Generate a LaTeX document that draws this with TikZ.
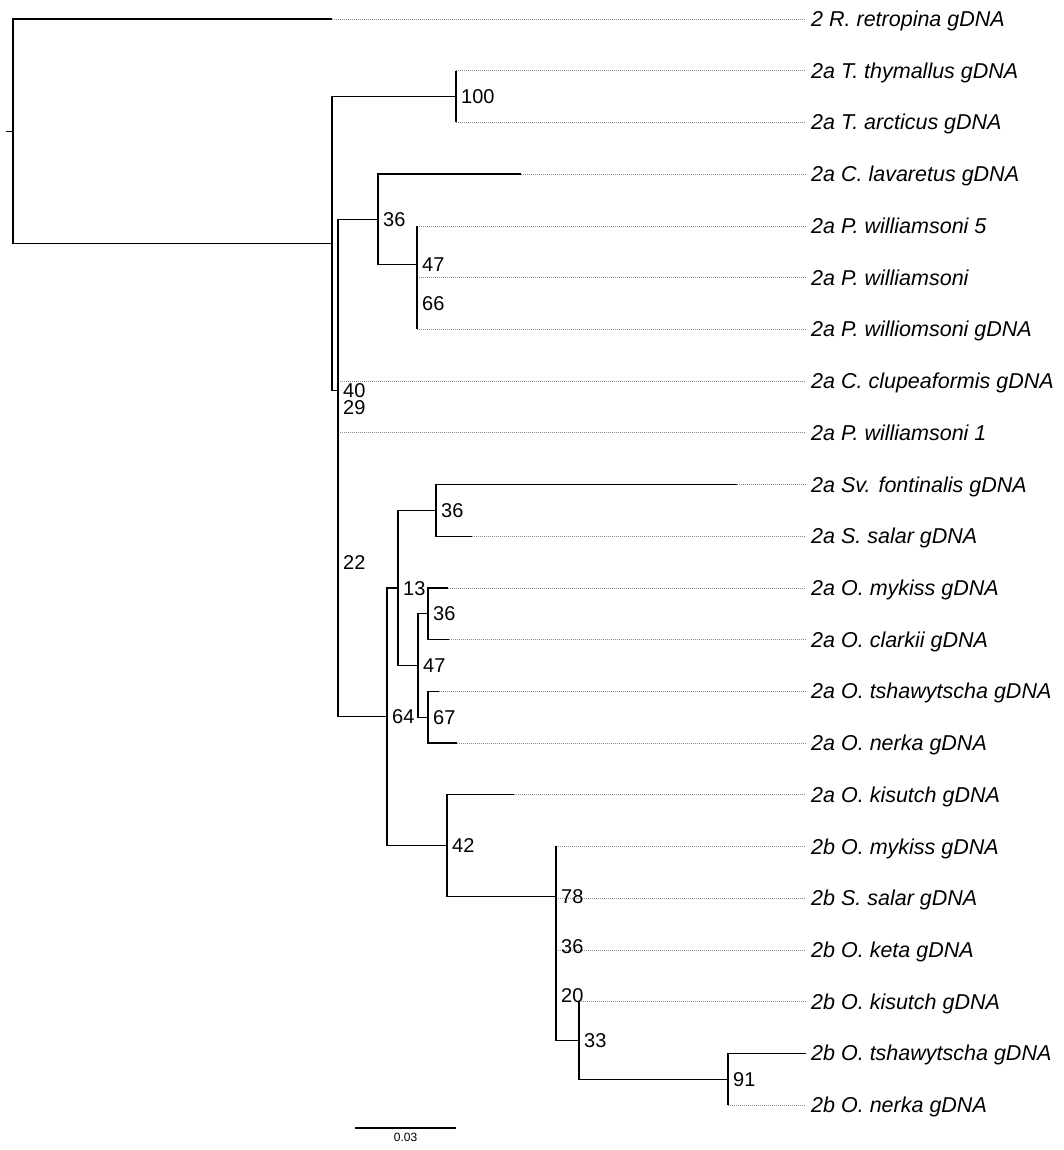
\documentclass[tikz,border=0pt]{standalone}
\usepackage{fontspec}
\setmainfont{Liberation Sans}
\usepackage{tikz}
\usetikzlibrary{
    positioning,
    calc
}
\tikzset{
    branch/.style={
        draw=black,
        line width=1.2pt
    },
    guide/.style={
        draw=black!45,
        line width=0.7pt,
        dash pattern=on 1pt off 1pt,
        shorten >=5pt
    },
    taxon/.style={
        anchor=base west,
        inner sep=0pt,
        yshift=-7.6pt,
        font=\fontsize{21.5}{24}\selectfont\itshape
    },
    boot/.style={
        anchor=base west,
        inner sep=0pt,
        xshift=5pt,
        yshift=-7.2pt,
        font=\fontsize{20}{24}\selectfont
    },
    scalelab/.style={
        inner sep=0pt,
        font=\fontsize{12}{14}\selectfont
    }
}

\begin{document}
\begin{tikzpicture}[x=1pt,y=-1pt]
\useasboundingbox (0,0) rectangle (1063,1150);
% leaf tips
\coordinate (k1) at (332,19);
\coordinate (k2) at (456,70.7);
\coordinate (k3) at (456,122.4);
\coordinate (k4) at (521,174.1);
\coordinate (k5) at (417,225.9);
\coordinate (k6) at (417,277.6);
\coordinate (k7) at (417,329.3);
\coordinate (k8) at (338,381);
\coordinate (k9) at (338,432.7);
\coordinate (k10) at (737,484.4);
\coordinate (k11) at (472,536.1);
\coordinate (k12) at (448,587.9);
\coordinate (k13) at (449,639.6);
\coordinate (k14) at (439,691.3);
\coordinate (k15) at (457,743);
\coordinate (k16) at (514,794.7);
\coordinate (k17) at (556,846.4);
\coordinate (k18) at (556,898.1);
\coordinate (k19) at (556,949.9);
\coordinate (k20) at (579,1001.6);
\coordinate (k21) at (806,1053.3);
\coordinate (k22) at (728,1105);
% inner nodes
\coordinate (stub) at (6,131.3);
\coordinate (nroot) at (13,131.3);
\coordinate (nA) at (332,243.6);
\coordinate (nTh) at (456,96.6);
\coordinate (nB) at (338,390.6);
\coordinate (nC) at (378,219.4);
\coordinate (nD) at (417,264.7);
\coordinate (nD2) at (417,303.4);
\coordinate (nE) at (338,561.8);
\coordinate (nG) at (338,406.9);
\coordinate (nH) at (387,716.7);
\coordinate (nI) at (398,587.9);
\coordinate (nK) at (436,510.3);
\coordinate (nL) at (418,665.4);
\coordinate (nM) at (428,613.7);
\coordinate (nN) at (428,717.2);
\coordinate (nJ) at (447,845.6);
\coordinate (nP) at (556,896.5);
\coordinate (nQ) at (556,946.6);
\coordinate (nR) at (556,995.1);
\coordinate (nS) at (579,1040.4);
\coordinate (nT) at (728,1079.2);
% taxa
\node[taxon] (t1) at (811,19) {2 R. retropina gDNA};
\node[taxon] (t2) at (811,70.7) {2a T. thymallus gDNA};
\node[taxon] (t3) at (811,122.4) {2a T. arcticus gDNA};
\node[taxon] (t4) at (811,174.1) {2a C. lavaretus gDNA};
\node[taxon] (t5) at (811,225.9) {2a P. williamsoni 5};
\node[taxon] (t6) at (811,277.6) {2a P. williamsoni};
\node[taxon] (t7) at (811,329.3) {2a P. williomsoni gDNA};
\node[taxon] (t8) at (811,381) {2a C. clupeaformis gDNA};
\node[taxon] (t9) at (811,432.7) {2a P. williamsoni 1};
\node[taxon] (t10) at (811,484.4) {2a Sv. fontinalis gDNA};
\node[taxon] (t11) at (811,536.1) {2a S. salar gDNA};
\node[taxon] (t12) at (811,587.9) {2a O. mykiss gDNA};
\node[taxon] (t13) at (811,639.6) {2a O. clarkii gDNA};
\node[taxon] (t14) at (811,691.3) {2a O. tshawytscha gDNA};
\node[taxon] (t15) at (811,743) {2a O. nerka gDNA};
\node[taxon] (t16) at (811,794.7) {2a O. kisutch gDNA};
\node[taxon] (t17) at (811,846.4) {2b O. mykiss gDNA};
\node[taxon] (t18) at (811,898.1) {2b S. salar gDNA};
\node[taxon] (t19) at (811,949.9) {2b O. keta gDNA};
\node[taxon] (t20) at (811,1001.6) {2b O. kisutch gDNA};
\node[taxon] (t21) at (811,1053.3) {2b O. tshawytscha gDNA};
\node[taxon] (t22) at (811,1105) {2b O. nerka gDNA};
% dotted guides to the taxa
\draw[guide] (k1) -- (k1 -| t1.west);
\draw[guide] (k2) -- (k2 -| t2.west);
\draw[guide] (k3) -- (k3 -| t3.west);
\draw[guide] (k4) -- (k4 -| t4.west);
\draw[guide] (k5) -- (k5 -| t5.west);
\draw[guide] (k6) -- (k6 -| t6.west);
\draw[guide] (k7) -- (k7 -| t7.west);
\draw[guide] (k8) -- (k8 -| t8.west);
\draw[guide] (k9) -- (k9 -| t9.west);
\draw[guide] (k10) -- (k10 -| t10.west);
\draw[guide] (k11) -- (k11 -| t11.west);
\draw[guide] (k12) -- (k12 -| t12.west);
\draw[guide] (k13) -- (k13 -| t13.west);
\draw[guide] (k14) -- (k14 -| t14.west);
\draw[guide] (k15) -- (k15 -| t15.west);
\draw[guide] (k16) -- (k16 -| t16.west);
\draw[guide] (k17) -- (k17 -| t17.west);
\draw[guide] (k18) -- (k18 -| t18.west);
\draw[guide] (k19) -- (k19 -| t19.west);
\draw[guide] (k20) -- (k20 -| t20.west);
\draw[guide] (k22) -- (k22 -| t22.west);
% branches
\draw[branch] (stub) -- (nroot);
\draw[branch] (nroot) |- (k1);
\draw[branch] (nroot) |- (nA);
\draw[branch] (nA) |- (nTh);
\draw[branch] (nA) |- (nB);
\draw[branch] (nTh) |- (k2);
\draw[branch] (nTh) |- (k3);
\draw[branch] (nB) |- (nC);
\draw[branch] (nB) |- (nE);
\draw[branch] (nC) |- (k4);
\draw[branch] (nC) |- (nD);
\draw[branch] (nD) |- (k5);
\draw[branch] (nD) |- (nD2);
\draw[branch] (nD2) |- (k6);
\draw[branch] (nD2) |- (k7);
\draw[branch] (nE) |- (nG);
\draw[branch] (nE) |- (nH);
\draw[branch] (nG) |- (k8);
\draw[branch] (nG) |- (k9);
\draw[branch] (nH) |- (nI);
\draw[branch] (nH) |- (nJ);
\draw[branch] (nI) |- (nK);
\draw[branch] (nI) |- (nL);
\draw[branch] (nK) |- (k10);
\draw[branch] (nK) |- (k11);
\draw[branch] (nL) |- (nM);
\draw[branch] (nL) |- (nN);
\draw[branch] (nM) |- (k12);
\draw[branch] (nM) |- (k13);
\draw[branch] (nN) |- (k14);
\draw[branch] (nN) |- (k15);
\draw[branch] (nJ) |- (k16);
\draw[branch] (nJ) |- (nP);
\draw[branch] (nP) |- (k17);
\draw[branch] (nP) |- (nQ);
\draw[branch] (nQ) |- (k18);
\draw[branch] (nQ) |- (nR);
\draw[branch] (nR) |- (k19);
\draw[branch] (nR) |- (nS);
\draw[branch] (nS) |- (k20);
\draw[branch] (nS) |- (nT);
\draw[branch] (nT) |- (k21);
\draw[branch] (nT) |- (k22);
% bootstrap values
\node[boot] (b100) at (nTh) {100};
\node[boot] (b40) at (nB) {40};
\node[boot] (b36a) at (nC) {36};
\node[boot] (b47a) at (nD) {47};
\node[boot] (b66) at (nD2) {66};
\node[boot] (b29) at (nG) {29};
\node[boot] (b22) at (nE) {22};
\node[boot] (b64) at (nH) {64};
\node[boot] (b13) at (nI) {13};
\node[boot] (b36b) at (nK) {36};
\node[boot] (b47b) at (nL) {47};
\node[boot] (b36c) at (nM) {36};
\node[boot] (b67) at (nN) {67};
\node[boot] (b42) at (nJ) {42};
\node[boot] (b78) at (nP) {78};
\node[boot] (b36d) at (nQ) {36};
\node[boot] (b20) at (nR) {20};
\node[boot] (b33) at (nS) {33};
\node[boot] (b91) at (nT) {91};
% scale bar
\coordinate (sb1) at (355,1128);
\coordinate (sb2) at (456,1128);
\draw[branch] (sb1) -- (sb2);
\node[scalelab, below=5pt of $(sb1)!0.5!(sb2)$] (sblab) {0.03};
\end{tikzpicture}
\end{document}
